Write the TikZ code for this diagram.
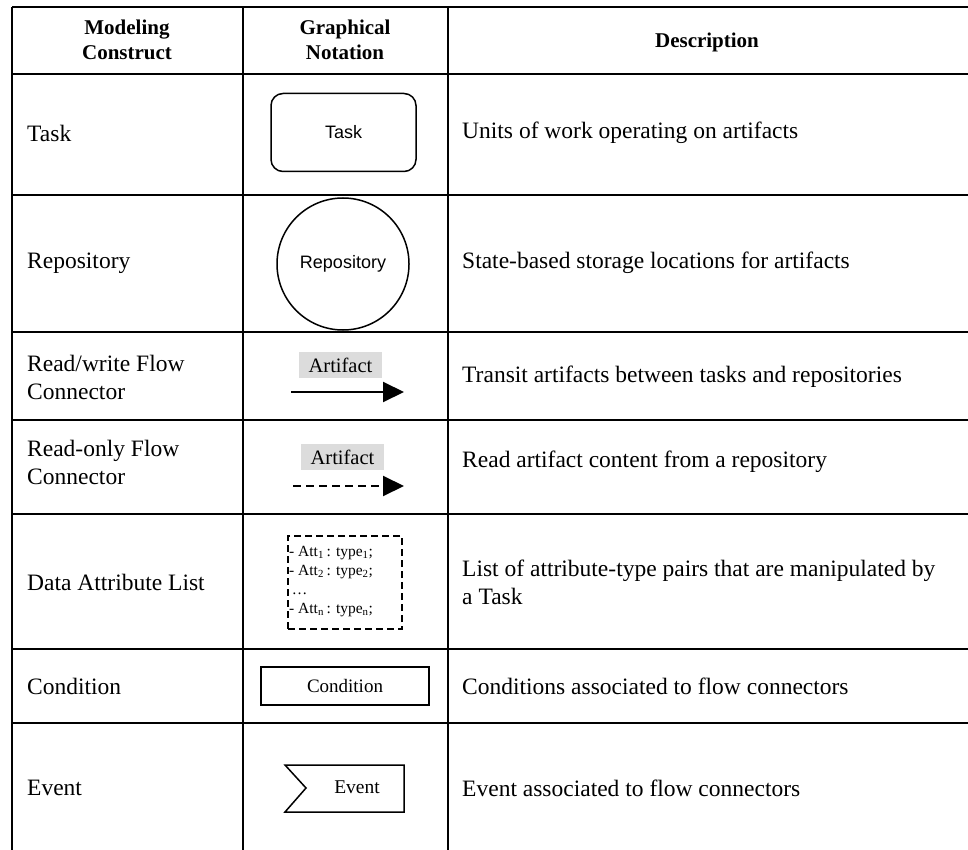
\documentclass[tikz,border=0pt]{standalone}
\usepackage{fontspec}
\setmainfont{Liberation Serif}
\newfontfamily\arialf{Liberation Sans}
\usetikzlibrary{arrows.meta}
\definecolor{artgray}{HTML}{DCDCDC}
\tikzset{
  grid/.style={line width=2.4pt},
  celltext/.style={anchor=west, inner sep=0pt, font=\fontsize{23.5}{28}\selectfont, align=left},
  headtext/.style={inner sep=0pt, font=\fontsize{21}{25}\selectfont\bfseries, align=center},
  shapeline/.style={line width=1.5pt},
  artlabel/.style={fill=artgray, inner sep=0pt, minimum width=83pt, minimum height=26pt, font=\fontsize{20.5}{22}\selectfont},
  flowarrow/.style={line width=2pt, -{Triangle[length=21pt,width=20pt]}},
}
\begin{document}
\begin{tikzpicture}[x=1pt,y=-1pt]
\useasboundingbox (0,0) rectangle (968,850);
% grid
\foreach \yy in {7,74,195,332,420,514,649,723} {\draw[grid] (12,\yy) -- (968,\yy);}
\foreach \xx in {12,243,448} {\draw[grid] (\xx,7) -- (\xx,850);}
% header
\node[headtext] (h1) at (127,40) {Modeling\\Construct};
\node[headtext] (h2) at (345,40) {Graphical\\Notation};
\node[headtext] (h3) at (707,42) {Description};
% left column
\node[celltext] (c1) at (27,133) {Task};
\node[celltext] (c2) at (27,263) {Repository};
\node[celltext] (c3) at (27,377) {Read/write Flow\\Connector};
\node[celltext] (c4) at (27,462) {Read-only Flow\\Connector};
\node[celltext] (c5) at (27,582) {Data Attribute List};
\node[celltext] (c6) at (27,686) {Condition};
\node[celltext] (c7) at (27,788) {Event};
% description column
\node[celltext] (d1) at (462,133) {Units of work operating on artifacts};
\node[celltext] (d2) at (462,263) {State-based storage locations for artifacts};
\node[celltext] (d3) at (462,377) {Transit artifacts between tasks and repositories};
\node[celltext] (d4) at (462,462) {Read artifact content from a repository};
\node[celltext] (d5) at (462,582) {List of attribute-type pairs that are manipulated by\\a Task};
\node[celltext] (d6) at (462,686) {Conditions associated to flow connectors};
\node[celltext] (d7) at (462,788) {Event associated to flow connectors};
% notations
\node[draw, shapeline, rounded corners=12pt, minimum width=145pt, minimum height=78pt, font=\arialf\fontsize{18}{20}\selectfont] (task) at (343.5,132.5) {Task};
\node[draw, shapeline, circle, minimum size=132pt, inner sep=0pt, font=\arialf\fontsize{18}{20}\selectfont] (repo) at (343,264) {Repository};
% read/write
\node[artlabel] (art1) at (340.5,365) {Artifact};
\coordinate (rw1) at (291,392);
\coordinate (rw2) at (404,392);
\draw[flowarrow] (rw1) -- (rw2);
% read-only
\node[artlabel] (art2) at (342.5,457) {Artifact};
\coordinate (ro1) at (293,486);
\coordinate (ro2) at (404,486);
\draw[flowarrow, dash pattern=on 8pt off 5pt] (ro1) -- (ro2);
% data attribute list
\node[draw, line width=1.5pt, dash pattern=on 7pt off 4pt, minimum width=114pt, minimum height=93pt, inner sep=0pt] (attr) at (345,582.5) {};
\node[anchor=north west, inner sep=0pt, align=left, font=\fontsize{15.5}{19}\selectfont] (attrtxt) at (289,546)
 {- Att\textsubscript{1}\,: type\textsubscript{1};\\- Att\textsubscript{2}\,: type\textsubscript{2};\\\,\ldots\\- Att\textsubscript{n}\,: type\textsubscript{n};};
% condition
\node[draw, line width=1.2pt, minimum width=168pt, minimum height=38pt, inner sep=0pt, font=\fontsize{19}{21}\selectfont] (cond) at (345,686) {Condition};
% event
\coordinate (e1) at (285,765);
\coordinate (e2) at (404,765);
\coordinate (e3) at (404,812);
\coordinate (e4) at (285,812);
\coordinate (e5) at (306,788);
\draw[shapeline] (e1) -- (e2) -- (e3) -- (e4) -- (e5) -- cycle;
\node[inner sep=0pt, font=\fontsize{19.5}{21}\selectfont] (evt) at (357,787) {Event};
\end{tikzpicture}
\end{document}
